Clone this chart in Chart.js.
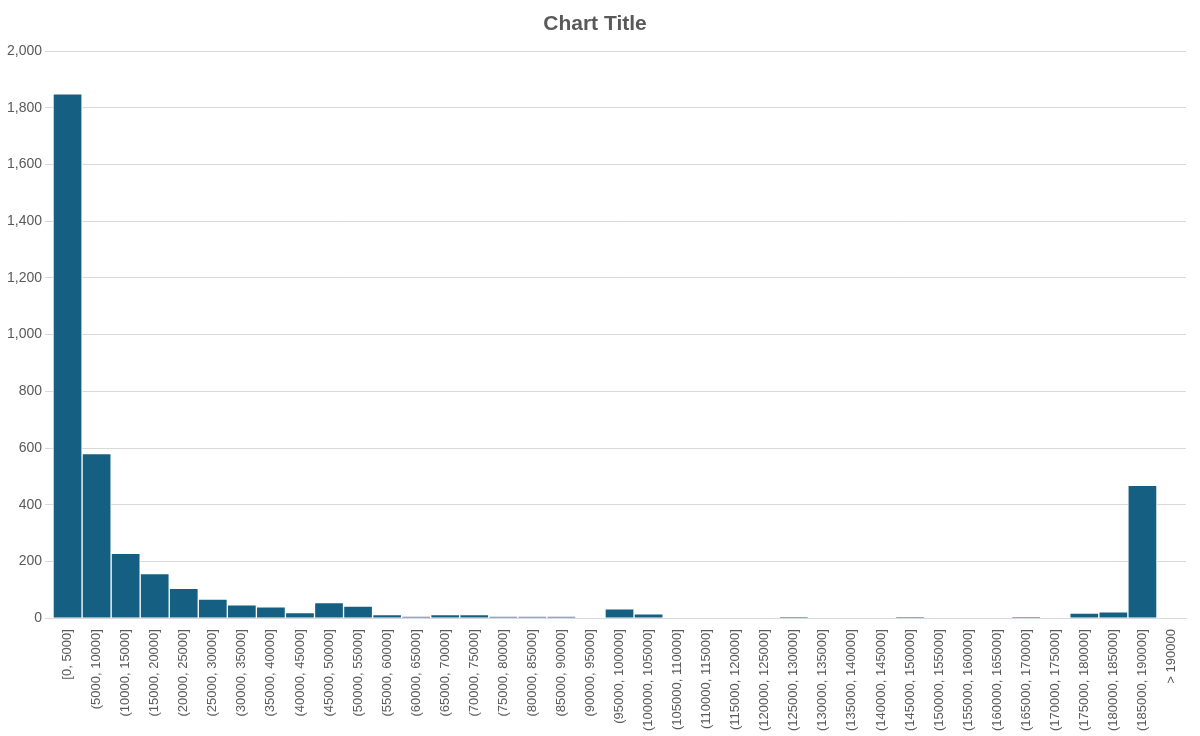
<!DOCTYPE html><html><head><script src="https://cdn.jsdelivr.net/npm/chart.js@4"></script>
<style>body{margin:0;background:#fff}#w{width:1200px;height:736px}</style></head><body><div id="w"><canvas id="c"></canvas></div>
<script>
const categories=["[0, 5000]","(5000, 10000]","(10000, 15000]","(15000, 20000]","(20000, 25000]","(25000, 30000]","(30000, 35000]","(35000, 40000]","(40000, 45000]","(45000, 50000]","(50000, 55000]","(55000, 60000]","(60000, 65000]","(65000, 70000]","(70000, 75000]","(75000, 80000]","(80000, 85000]","(85000, 90000]","(90000, 95000]","(95000, 100000]","(100000, 105000]","(105000, 110000]","(110000, 115000]","(115000, 120000]","(120000, 125000]","(125000, 130000]","(130000, 135000]","(135000, 140000]","(140000, 145000]","(145000, 150000]","(150000, 155000]","(155000, 160000]","(160000, 165000]","(165000, 170000]","(170000, 175000]","(175000, 180000]","(180000, 185000]","(185000, 190000]","> 190000"];
const counts=[1850,580,228,157,105,67,47,40,19,55,42,12,5,12,12,5,5,5,0,33,15,0,0,0,0,3,0,0,0,3,0,0,0,3,0,18,22,468,0];
new Chart(document.getElementById('c'),{type:'bar',data:{labels:categories,datasets:[{data:counts,backgroundColor:'#156082',borderColor:'#ffffff',borderWidth:1,barPercentage:1,categoryPercentage:1}]},
options:{responsive:true,maintainAspectRatio:false,animation:false,layout:{padding:{left:4,right:14,top:6,bottom:2}},
plugins:{legend:{display:false},title:{display:true,text:'Chart Title',color:'#595959',font:{family:'Liberation Sans',size:21},padding:{top:6,bottom:14}}},
scales:{x:{grid:{display:false},border:{color:'#d9d9d9'},ticks:{color:'#595959',font:{family:'Liberation Sans',size:13},minRotation:90,maxRotation:90,autoSkip:false}},
y:{min:0,max:2000,ticks:{stepSize:200,color:'#595959',font:{family:'Liberation Sans',size:14}},grid:{color:'#d9d9d9'},border:{display:false}}}}});
</script></body></html>
